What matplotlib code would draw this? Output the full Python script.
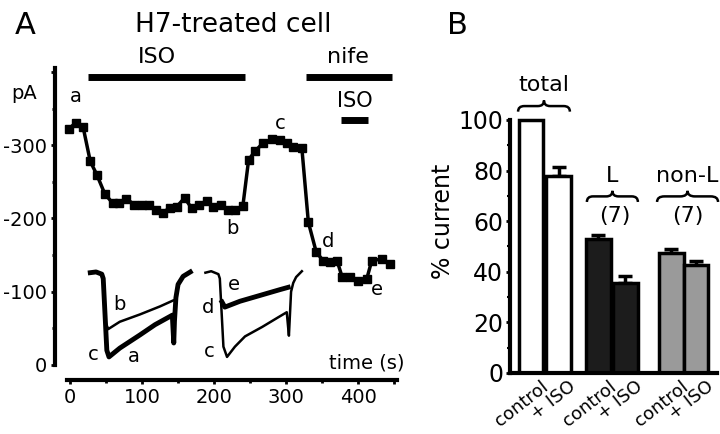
import matplotlib
matplotlib.use('Agg')
import matplotlib.pyplot as plt
from matplotlib.path import Path
from matplotlib.patches import PathPatch
import matplotlib.transforms as mtransforms

plt.rcParams['font.family'] = ['DejaVu Sans']
plt.rcParams['axes.unicode_minus'] = False

# ---------------- Panel A data ----------------
time_s = [-2, 8, 18, 28, 37, 48, 59, 68, 78, 89, 100, 110, 119, 129, 139, 148,
          159, 169, 179, 190, 199, 209, 219, 229, 240, 248, 257, 268, 280, 292,
          301, 310, 322, 331, 342, 352, 361, 371, 378, 389, 400, 412, 419, 433, 444]
current_pA = [-322, -331, -325, -278, -260, -234, -221, -221, -227, -219, -218,
              -218, -211, -208, -215, -216, -228, -214, -219, -224, -216, -219,
              -211, -211, -217, -280, -292, -303, -308, -307, -303, -297, -296,
              -195, -154, -142, -141, -142, -120, -120, -115, -117, -142, -145, -138]

# inset current traces (drawn in the panel's coordinates)
ins1_ac_x = [28, 36, 44, 46, 51, 54, 69, 83, 97, 118, 142, 144, 145, 147, 150, 157, 167]
ins1_ac_y = [-126, -127, -124, -118, -20, -11, -23, -32, -41, -55, -68, -30, -60, -92, -110, -121, -127]
ins1_b_x = [50, 53, 69, 97, 125, 143]
ins1_b_y = [-56, -49, -59, -69, -80, -88]

ins2_c_x = [188, 196, 206, 208, 213, 218, 229, 243, 267, 289, 301, 304, 305, 307, 310, 314, 322]
ins2_c_y = [-126, -128, -124, -118, -25, -11, -25, -39, -52, -65, -72, -40, -60, -100, -112, -120, -128]
ins2_de_x = [211, 215, 236, 264, 292, 303]
ins2_de_y = [-86, -79, -87, -95, -103, -106]

# ---------------- Panel B data ----------------
groups = ['total', 'L', 'non-L']
group_n = ['', '(7)', '(7)']
conditions = ['control', '+ ISO']
pct_current = [100, 78, 52.8, 35.4, 47.6, 42.6]
pct_sem = [0, 3.4, 1.8, 3.0, 1.4, 1.8]

fig = plt.figure(figsize=(7.2, 4.34), dpi=100)

# ================= Panel A =================
axA = fig.add_axes([0.0764, 0.1253, 0.4908, 0.7763])
axA.set_xlim(-21, 470)
axA.set_ylim(20, -440)
for s in ['top', 'right']:
    axA.spines[s].set_visible(False)
for s in ['left', 'bottom']:
    axA.spines[s].set_linewidth(3)
axA.spines['left'].set_bounds(-405, 0)
axA.spines['bottom'].set_bounds(-4, 454)

axA.set_yticks([0, -100, -200, -300, -400])
axA.set_yticklabels(['0', '-100', '-200', '-300', ''])
axA.set_yticks([-50, -150, -250, -350], minor=True)
axA.set_xticks([0, 100, 200, 300, 400, 450])
axA.set_xticklabels(['0', '100', '200', '300', '400', ''])
axA.set_xticks([50, 150, 250, 350], minor=True)
axA.tick_params(which='major', direction='out', length=3, width=2, labelsize=14, pad=3)
axA.tick_params(which='minor', direction='out', length=2.5, width=2)

axA.plot(time_s, current_pA, color='black', lw=2.5, marker='s', ms=5.5,
         markeredgecolor='black')

axA.plot(ins1_ac_x, ins1_ac_y, color='black', lw=3.5, solid_joinstyle='round')
axA.plot(ins1_b_x, ins1_b_y, color='black', lw=1.8)
axA.plot(ins2_c_x, ins2_c_y, color='black', lw=1.8)
axA.plot(ins2_de_x, ins2_de_y, color='black', lw=3.5, solid_joinstyle='round')

lab = dict(fontsize=14, ha='center', va='center', clip_on=False)
axA.text(8, -366, 'a', **lab)
axA.text(225, -186, 'b', **lab)
axA.text(292, -330, 'c', **lab)
axA.text(358, -168, 'd', **lab)
axA.text(426, -103, 'e', **lab)
axA.text(68, -83, 'b', **lab)
axA.text(32, -14, 'c', **lab)
axA.text(88, -12, 'a', **lab)
axA.text(227, -110, 'e', **lab)
axA.text(192, -78, 'd', **lab)
axA.text(193, -18, 'c', **lab)
axA.text(465, -3, 'time (s)', fontsize=14, ha='right', va='center')
axA.text(-64, -370, 'pA', fontsize=14, ha='center', va='center', clip_on=False)

# drug application bars
axA.plot([25, 243], [-393, -393], color='black', lw=5, solid_capstyle='butt', clip_on=False)
axA.text(121, -420, 'ISO', fontsize=16, ha='center', va='center', clip_on=False)
axA.plot([328, 447], [-393, -393], color='black', lw=5, solid_capstyle='butt', clip_on=False)
axA.text(386, -420, 'nife', fontsize=16, ha='center', va='center', clip_on=False)
axA.plot([376, 414], [-334, -334], color='black', lw=5, solid_capstyle='butt', clip_on=False)
axA.text(395, -360, 'ISO', fontsize=15, ha='center', va='center', clip_on=False)

fig.text(25 / 720, 1 - 25 / 434, 'A', fontsize=22, ha='center', va='center')
fig.text(233 / 720, 1 - 25 / 434, 'H7-treated cell', fontsize=19, ha='center', va='center')
fig.text(457 / 720, 1 - 25 / 434, 'B', fontsize=22, ha='center', va='center')

# ================= Panel B =================
axB = fig.add_axes([0.7083, 0.1406, 0.2875, 0.6995])
axB.set_xlim(-0.78, 6.89)
axB.set_ylim(0, 120)
for s in ['top', 'right']:
    axB.spines[s].set_visible(False)
for s in ['left', 'bottom']:
    axB.spines[s].set_linewidth(3)
axB.spines['left'].set_bounds(0, 100)

pos = [0, 1.02, 2.5, 3.5, 5.2, 6.12]
fills = ['white', 'white', '#1c1c1c', '#1c1c1c', '#9a9a9a', '#9a9a9a']
axB.bar(pos, pct_current, width=0.9, color=fills, edgecolor='black', linewidth=2.5, zorder=2)
axB.errorbar(pos[1:], pct_current[1:], yerr=[[0] * 5, pct_sem[1:]], fmt='none',
             ecolor='black', elinewidth=2.5, capsize=5, capthick=2.5, zorder=1)

axB.set_yticks([0, 20, 40, 60, 80, 100])
axB.set_yticks([10, 30, 50, 70, 90], minor=True)
axB.tick_params(axis='y', which='major', direction='out', length=3, width=2, labelsize=17, pad=2)
axB.tick_params(axis='y', which='minor', direction='out', length=2, width=1.5)
axB.set_ylabel('% current', fontsize=17, labelpad=2)

axB.set_xticks(pos)
axB.set_xticklabels(conditions * 3, fontsize=13)
axB.tick_params(axis='x', length=0, pad=3)
offset = mtransforms.ScaledTranslation(7 / 72, 0, fig.dpi_scale_trans)
for t in axB.get_xticklabels():
    t.set_rotation(38)
    t.set_ha('right')
    t.set_va('top')
    t.set_rotation_mode('anchor')
    t.set_transform(t.get_transform() + offset)


def brace(ax, x0, x1, y, h):
    xm = (x0 + x1) / 2
    r = (x1 - x0) * 0.12
    verts = [(x0, y - h), (x0, y), (x0 + r, y), (xm - r, y), (xm, y), (xm, y + h),
             (xm, y + h), (xm, y), (xm + r, y), (x1 - r, y), (x1, y), (x1, y - h)]
    codes = [Path.MOVETO, Path.CURVE3, Path.CURVE3, Path.LINETO, Path.CURVE3, Path.CURVE3,
             Path.MOVETO, Path.CURVE3, Path.CURVE3, Path.LINETO, Path.CURVE3, Path.CURVE3]
    ax.add_patch(PathPatch(Path(verts, codes), fill=False, lw=1.8, edgecolor='black',
                           clip_on=False))


brace(axB, -0.48, 1.44, 105.5, 2.2)
brace(axB, 2.07, 3.96, 69.8, 2.2)
brace(axB, 4.67, 6.93, 69.8, 2.2)
gl = dict(fontsize=16, ha='center', va='center', clip_on=False)
axB.text(0.48, 114, groups[0], **gl)
axB.text(3.0, 78, groups[1], **gl)
axB.text(5.8, 78, groups[2], **gl)
axB.text(3.1, 62, group_n[1], **gl)
axB.text(5.8, 62, group_n[2], **gl)

fig.savefig('out.png', dpi=100)
